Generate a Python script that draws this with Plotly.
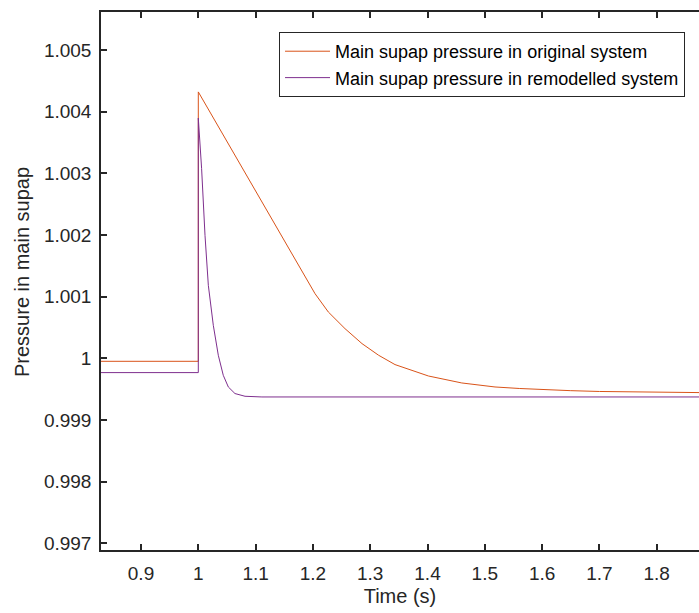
import plotly.graph_objects as go

# Original system (orange)
t_orig = [0.8302, 1.0, 1.0, 1.0524, 1.1106, 1.1688, 1.2037, 1.2269, 1.256, 1.2857, 1.3147,
          1.3433, 1.4016, 1.4598, 1.5178, 1.561, 1.596, 1.65, 1.7, 1.8, 1.874]
p_orig = [0.999951, 0.999951, 1.00432, 1.003480, 1.002561, 1.001616, 1.001048, 1.000751,
          1.000481, 1.000238, 1.000049, 0.999898, 0.999713, 0.999600, 0.999535, 0.999510,
          0.999493, 0.999475, 0.999462, 0.999450, 0.999444]

# Remodelled system (purple)
t_rem = [0.8302, 1.0, 1.0, 1.0058, 1.0117, 1.0175, 1.0262, 1.0349, 1.0436, 1.0524, 1.064,
         1.0815, 1.111, 1.874]
p_rem = [0.999768, 0.999768, 1.003895, 1.003075, 1.001994, 1.001183, 1.000535, 1.000049,
         0.999724, 0.999535, 0.999428, 0.999384, 0.999373, 0.999373]

x_ticks = [0.9, 1.0, 1.1, 1.2, 1.3, 1.4, 1.5, 1.6, 1.7, 1.8]
x_tick_labels = ["0.9", "1", "1.1", "1.2", "1.3", "1.4", "1.5", "1.6", "1.7", "1.8"]
y_ticks = [0.997, 0.998, 0.999, 1.0, 1.001, 1.002, 1.003, 1.004, 1.005]
y_tick_labels = ["0.997", "0.998", "0.999", "1", "1.001", "1.002", "1.003", "1.004", "1.005"]

FONT = "Liberation Sans, Arial, Helvetica, sans-serif"
AX = "#262626"

fig = go.Figure()
fig.add_trace(go.Scatter(x=t_orig, y=p_orig, mode="lines",
                         line=dict(color="#D95319", width=1),
                         name="Main supap pressure in original system"))
fig.add_trace(go.Scatter(x=t_rem, y=p_rem, mode="lines",
                         line=dict(color="#7E2F8E", width=1),
                         name="Main supap pressure in remodelled system"))

fig.update_layout(
    width=699, height=613,
    margin=dict(l=101, r=0, t=12, b=63),
    paper_bgcolor="white", plot_bgcolor="white",
    font=dict(family=FONT, color=AX, size=19),
    showlegend=True,
    legend=dict(x=0.2977, y=0.9628, xanchor="left", yanchor="top",
                bordercolor=AX, borderwidth=1, bgcolor="white",
                font=dict(size=18, family=FONT, color="#000000"),
                tracegroupgap=0, itemwidth=45),
    xaxis=dict(range=[0.8302, 1.8738], tickvals=x_ticks, ticktext=x_tick_labels,
               ticks="inside", ticklen=6, tickcolor=AX, tickwidth=1.5,
               showline=True, linecolor=AX, linewidth=1.5, mirror="ticks",
               showgrid=False, zeroline=False, ticklabelstandoff=5,
               title=dict(text="Time (s)", font=dict(size=20, family=FONT, color=AX), standoff=6),
               tickfont=dict(size=19, family=FONT, color=AX)),
    yaxis=dict(range=[0.996891, 1.005616], tickvals=y_ticks, ticktext=y_tick_labels,
               ticks="inside", ticklen=6, tickcolor=AX, tickwidth=1.5,
               showline=True, linecolor=AX, linewidth=1.5, mirror=False,
               showgrid=False, zeroline=False, ticklabelstandoff=4,
               tickfont=dict(size=19, family=FONT, color=AX)),
    annotations=[dict(text="Pressure in main supap", xref="paper", yref="paper",
                      x=(22 - 101) / 598, y=(550 - 272) / 538, textangle=-90,
                      showarrow=False, xanchor="center", yanchor="middle",
                      font=dict(size=20, family=FONT, color=AX))],
)

fig.write_html("out.html",
               config={"displayModeBar": False},
               post_script="document.body.style.margin='0';document.body.style.overflow='hidden';")
